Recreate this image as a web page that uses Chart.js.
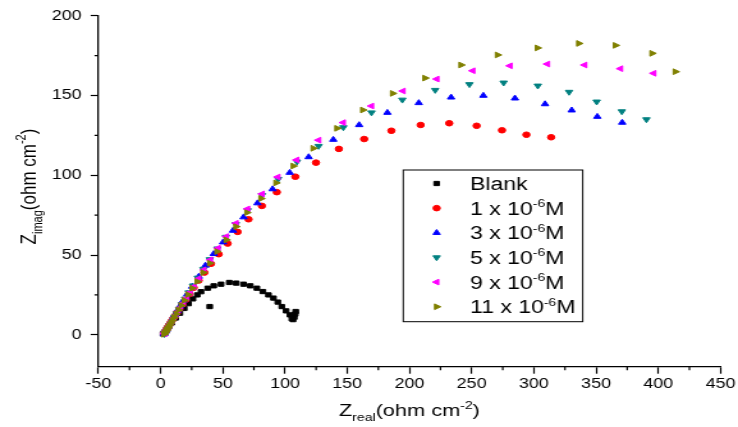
<!DOCTYPE html>
<html>
<head>
<meta charset="utf-8">
<title>Nyquist plot</title>
<script src="https://cdn.jsdelivr.net/npm/chart.js@4.4.1/dist/chart.umd.min.js"></script>
<style>
  html, body { margin: 0; padding: 0; background: #fff; overflow: hidden; }
  #wrap { width: 738px; height: 427px; overflow: hidden; }
  /* plot is drawn narrow and widened, so glyphs and markers come out wide like the original figure */
  #nyquist { display: block; transform: scaleX(1.279); transform-origin: 0 0; }
</style>
</head>
<body>
<div id="wrap"><canvas id="nyquist" width="577" height="427"></canvas></div>
<script>
// axis ticks
const xTicks = [-50, 0, 50, 100, 150, 200, 250, 300, 350, 400, 450];
const yTicks = [0, 50, 100, 150, 200];

// Z' / Z'' pairs (ohm cm-2), high frequency first
const blank = [
  [2, 0.5], [3, 1.5], [4.5, 3], [6.5, 5], [9, 7.5], [12, 10.5], [15.5, 13.5], [19, 16.5],
  [22.5, 19.5], [26, 22.5], [29.5, 25], [32.5, 27], [39.5, 17.7], [37.9, 29.2], [42.7, 30.7],
  [48.6, 31.7], [55.2, 32.8], [60.8, 32.4], [66.7, 31.7], [72.1, 30.7], [77.4, 29.2],
  [82.2, 27.1], [86.7, 25], [90.7, 23], [94.2, 20.5], [97.4, 17.7], [100.9, 15], [104, 12.5],
  [105.5, 10], [106.5, 9.5], [107.5, 11], [108.2, 13], [108.6, 14.6]
];
const conc1 = [
  [2.9, 0.6], [3.2, 1.1], [3.6, 1.7], [4, 2.3], [4.5, 3], [5.1, 3.8], [5.8, 4.7], [6.6, 5.8],
  [7.6, 7], [8.7, 8.4], [10, 10], [11.5, 11.8], [13.2, 13.9], [15.2, 16.3], [17.5, 19],
  [20.1, 22], [23.1, 25.5], [26.6, 29.5], [30.6, 34], [35.2, 39], [40.5, 44.5], [46.7, 50.5],
  [53.9, 57.2], [61.9, 64.5], [70.7, 72.4], [81.4, 80.8], [93.4, 89.4], [108.3, 99.1],
  [124.9, 107.9], [143.3, 116.5], [163.6, 122.7], [185.5, 127.9], [209, 131.5], [232, 132.6],
  [254, 131], [274.4, 128.2], [294, 125.4], [313.9, 123.8]
];
const conc3 = [
  [2.9, 0.5], [3.3, 1], [3.7, 1.6], [4.2, 2.3], [4.8, 3.1], [5.5, 4.1], [6.3, 5.3], [7.3, 6.7],
  [8.4, 8.3], [9.8, 10.2], [11.4, 12.4], [13.3, 15], [15.6, 18], [18.3, 21.5], [21.5, 25.5],
  [25.4, 30.2], [30.7, 36.5], [36, 43.4], [42.7, 50.7], [50.2, 58], [58.2, 65.3], [66.7, 73.7],
  [77.9, 82.5], [90, 91.3], [103.8, 101.6], [119, 111.4], [138.8, 122.3], [159.6, 131.5],
  [182.3, 139.2], [207.5, 145.3], [233.5, 148.8], [259.4, 149.9], [284.8, 148.2], [309, 144.6],
  [330.4, 140.7], [351, 136.7], [371, 133]
];
const conc5 = [
  [3.1, 0.4], [3.5, 0.9], [4, 1.5], [4.5, 2.2], [5.1, 3], [5.8, 3.9], [6.6, 5], [7.5, 6.2],
  [8.6, 7.7], [9.9, 9.4], [11.3, 11.3], [13, 13.6], [14.9, 16.2], [17.1, 19.2], [19.7, 22.6],
  [22.6, 26.5], [26, 30.8], [29.9, 35.7], [34.4, 41.2], [39.6, 47.3], [45.6, 54], [52.5, 61.3],
  [60.5, 69.3], [70, 78], [81.5, 87.5], [94.5, 97.6], [109.6, 108.5], [127, 118.3],
  [146.9, 130], [169.5, 139.3], [194.3, 147.3], [220.7, 153.4], [248.2, 157], [275.7, 158],
  [303.2, 156.1], [328.3, 152.2], [350.5, 146.1], [370.7, 140], [390.5, 135]
];
const conc9 = [
  [3.1, 0.7], [3.6, 1.3], [4.1, 2], [4.7, 2.8], [5.4, 3.7], [6.2, 4.7], [7.1, 5.9], [8.1, 7.2],
  [9.3, 8.7], [10.6, 10.4], [12.1, 12.3], [13.8, 14.5], [15.8, 17], [18, 19.8], [20.6, 23],
  [23.5, 26.5], [26.7, 30.2], [30.7, 35.2], [34.7, 40.7], [40, 47], [46.2, 54.3], [52.8, 61.6],
  [60.6, 69.9], [69.9, 78.9], [81.6, 88.3], [94.2, 98.9], [109.4, 109.6], [127, 122],
  [146.8, 133], [169.5, 143.4], [194.8, 152.8], [222, 160.3], [250.9, 165.5], [280.8, 168.6],
  [310.9, 169.7], [340.8, 169.1], [369.6, 166.8], [396.3, 163.9]
];
const conc11 = [
  [2.8, 0.3], [3.2, 0.8], [3.7, 1.4], [4.2, 2.1], [4.8, 2.9], [5.5, 3.8], [6.3, 4.8], [7.2, 6],
  [8.3, 7.4], [9.5, 9], [10.9, 10.9], [12.5, 13.1], [14.4, 15.6], [16.6, 18.4], [19.1, 21.6],
  [22, 25.2], [25.4, 29.2], [29.4, 33.4], [34.2, 39], [39.5, 44.9], [45.4, 52.2], [52.8, 59.5],
  [60.6, 67.8], [69.4, 76.6], [80.7, 85.4], [92.8, 95.2], [106.7, 105.8], [122.7, 116.9],
  [141.8, 129.4], [162.5, 140.9], [186.5, 151.3], [212.5, 160.9], [241.5, 169.1],
  [270.8, 175.4], [302.9, 179.8], [336.1, 182.6], [365.6, 181.4], [395, 176.4], [413.7, 164.9]
];

// legend text: [plain, superscript, plain]
const legendLabels = [
  ['Blank', '', ''],
  ['1 x 10', '-6', 'M'],
  ['3 x 10', '-6', 'M'],
  ['5 x 10', '-6', 'M'],
  ['9 x 10', '-6', 'M'],
  ['11 x 10', '-6', 'M']
];

const FONT = "'Liberation Sans', Arial, Helvetica, sans-serif";

const series = [
  { data: blank,  color: '#000000', style: 'rect',     rot: 0,   r: 3,   order: 6 },
  { data: conc1,  color: '#FF0000', style: 'circle',   rot: 0,   r: 2.8, order: 5 },
  { data: conc3,  color: '#0000FF', style: 'triangle', rot: 0,   r: 3.3, order: 4 },
  { data: conc5,  color: '#008080', style: 'triangle', rot: 180, r: 3.3, order: 3 },
  { data: conc9,  color: '#FF00FF', style: 'triangle', rot: -90, r: 3.3, order: 2 },
  { data: conc11, color: '#808000', style: 'triangle', rot: 90,  r: 3.3, order: 1 }
];

// draws a run of text pieces, some of them sub/superscript
function richText(ctx, parts, x, y, size, align) {
  const fontOf = k => (k ? Math.round(size * 0.62) : size) + 'px ' + FONT;
  let total = 0;
  parts.forEach(([t, k]) => { ctx.font = fontOf(k); total += ctx.measureText(t).width; });
  let cx = align === 'center' ? x - total / 2 : x;
  ctx.textAlign = 'left';
  ctx.textBaseline = 'alphabetic';
  parts.forEach(([t, k]) => {
    if (!t) return;
    ctx.font = fontOf(k);
    const dy = k === 'sub' ? size * 0.3 : k === 'sup' ? -size * 0.42 : 0;
    ctx.fillText(t, cx, y + dy);
    cx += ctx.measureText(t).width;
  });
}

const extras = {
  id: 'extras',
  afterDraw(chart) {
    const ctx = chart.ctx;
    const xs = chart.scales.x, ys = chart.scales.y;
    ctx.save();
    ctx.strokeStyle = '#000';
    ctx.fillStyle = '#000';

    // minor ticks between the labelled ones
    ctx.lineWidth = 1.2;
    ctx.beginPath();
    for (let i = 0; i < xTicks.length - 1; i++) {
      const px = xs.getPixelForValue((xTicks[i] + xTicks[i + 1]) / 2);
      ctx.moveTo(px, ys.bottom);
      ctx.lineTo(px, ys.bottom + 3.5);
    }
    for (let i = 0; i < yTicks.length - 1; i++) {
      const py = ys.getPixelForValue((yTicks[i] + yTicks[i + 1]) / 2);
      ctx.moveTo(xs.left, py);
      ctx.lineTo(xs.left - 3, py);
    }
    ctx.stroke();

    // axis titles
    const titleSize = 17;
    richText(ctx, [['Z', ''], ['real', 'sub'], ['(ohm cm', ''], ['-2', 'sup'], [')', '']],
      (xs.left + xs.right) / 2, 416, titleSize, 'center');
    ctx.save();
    ctx.translate(27.5, 186.5);
    ctx.rotate(-Math.PI / 2);
    richText(ctx, [['Z', ''], ['imag', 'sub'], ['(ohm cm', ''], ['-2', 'sup'], [')', '']],
      0, 0, titleSize, 'center');
    ctx.restore();

    // legend box
    const box = { left: 315.3, top: 170, right: 455.6, bottom: 321.7 };
    ctx.lineWidth = 1;
    ctx.strokeRect(box.left, box.top, box.right - box.left, box.bottom - box.top);
    const rowY0 = 183.5, rowGap = 24.65, markX = 341.4, textX = 367.5;
    series.forEach((s, i) => {
      const y = rowY0 + i * rowGap;
      ctx.fillStyle = s.color;
      ctx.strokeStyle = s.color;
      ctx.lineWidth = 1;
      Chart.helpers.drawPoint(ctx, { pointStyle: s.style, rotation: s.rot, radius: s.r, borderWidth: 1 }, markX, y);
      ctx.fillStyle = '#000';
      const [a, sup, b] = legendLabels[i];
      richText(ctx, [[a, ''], [sup, 'sup'], [b, '']], textX, y + 6.5, 18, 'left');
    });
    ctx.restore();
  }
};

const axisFont = { family: FONT, size: 14 };

new Chart(document.getElementById('nyquist'), {
  type: 'scatter',
  data: {
    datasets: series.map(s => ({
      data: s.data.map(([x, y]) => ({ x, y })),
      pointStyle: s.style,
      rotation: s.rot,
      pointRadius: s.r,
      pointBorderWidth: 1,
      backgroundColor: s.color,
      borderColor: s.color,
      order: s.order,
      showLine: false
    }))
  },
  options: {
    responsive: false,
    animation: false,
    devicePixelRatio: 1,
    layout: { padding: { top: 15.7, right: 12.5, bottom: 0, left: 0 } },
    plugins: { legend: { display: false }, tooltip: { enabled: false } },
    scales: {
      x: {
        type: 'linear',
        min: -50,
        max: 450,
        afterBuildTicks: s => { s.ticks = xTicks.map(v => ({ value: v })); },
        afterFit: s => { s.height = 60.3; },
        grid: { display: true, drawOnChartArea: false, drawTicks: true, tickLength: 7, tickColor: '#000', tickWidth: 1.2 },
        border: { display: true, color: '#000', width: 1.3 },
        ticks: { color: '#000', font: axisFont, padding: 2, maxRotation: 0, autoSkip: false }
      },
      y: {
        type: 'linear',
        min: -20,
        max: 200,
        afterBuildTicks: s => { s.ticks = yTicks.map(v => ({ value: v })); },
        afterFit: s => { s.width = 76.9; },
        grid: { display: true, drawOnChartArea: false, drawTicks: true, tickLength: 6, tickColor: '#000', tickWidth: 1.2 },
        border: { display: true, color: '#000', width: 1.3 },
        ticks: { color: '#000', font: axisFont, padding: 7, autoSkip: false }
      }
    }
  },
  plugins: [extras]
});
</script>
</body>
</html>
